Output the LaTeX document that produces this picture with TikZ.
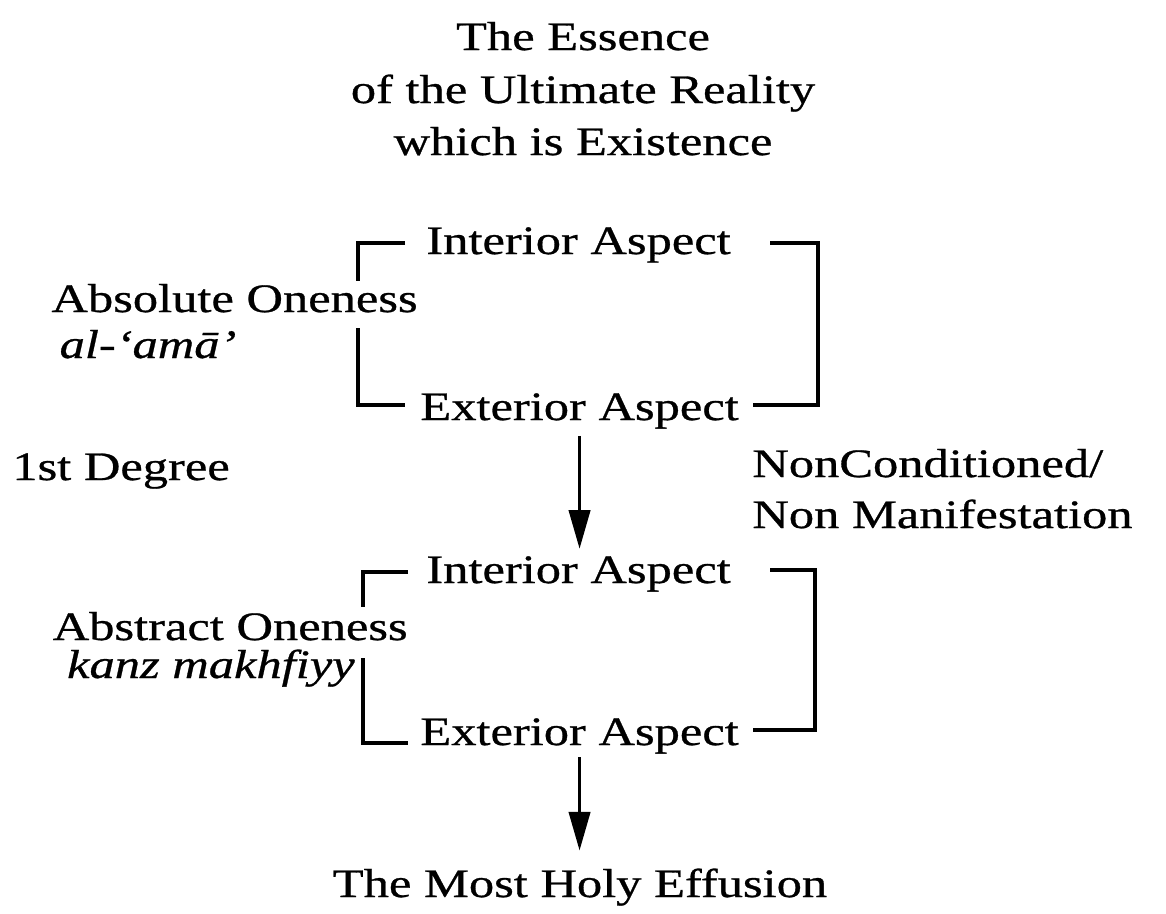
\documentclass[tikz,border=0pt]{standalone}
\usepackage{fontspec}
\setmainfont{Liberation Serif}[FakeStretch=1.25,FakeBold=0.7]
\usetikzlibrary{arrows.meta}

\begin{document}
\begin{tikzpicture}[x=0.02cm,y=-0.02cm,
	lbl/.style={inner sep=0pt, anchor=base, font=\fontsize{23}{28}\selectfont},
	brk/.style={line width=2.1pt},
	arr/.style={line width=2.1pt, -{Triangle[length=22pt,width=12pt]}}]
		\useasboundingbox (0,0) rectangle (1166,913);
		%Titel
		\node[lbl] (ttlA) at (583,50) {The Essence};
		\node[lbl] (ttlB) at (583,103) {of the Ultimate Reality};
		\node[lbl] (ttlC) at (583,155) {which is Existence};
		%erste Gruppe
		\node[lbl, anchor=base west] (int1) at (426,254) {Interior Aspect};
		\node[lbl, anchor=base east] (abs) at (418,312) {Absolute Oneness};
		\node[lbl] (alama) at (148,358) {\itshape al-‘amā’};
		\node[lbl, anchor=base west] (ext1) at (420,420) {Exterior Aspect};
		\node[lbl, anchor=base west] (deg) at (12,480) {1st Degree};
		\node[lbl, anchor=base west] (ncA) at (752,477) {NonConditioned/};
		\node[lbl, anchor=base west] (ncB) at (752,528) {Non Manifestation};
		%zweite Gruppe
		\node[lbl, anchor=base west] (int2) at (426,583) {Interior Aspect};
		\node[lbl, anchor=base east] (abstr) at (408,640) {Abstract Oneness};
		\node[lbl, anchor=base east] (kanz) at (355,678) {\itshape kanz makhfiyy};
		\node[lbl, anchor=base west] (ext2) at (420,745) {Exterior Aspect};
		\node[lbl] (eff) at (580,897) {The Most Holy Effusion};
		%Klammern
		\draw[brk] (405,243)--(358,243)--(358,281);
		\draw[brk] (358,328)--(358,405)--(405,405);
		\draw[brk] (770,243)--(818,243)--(818,405)--(753,405);
		\draw[brk] (408,572)--(363,572)--(363,607);
		\draw[brk] (363,658)--(363,743)--(408,743);
		\draw[brk] (770,570)--(815,570)--(815,730)--(753,730);
		%Pfeile
		\draw[arr, shorten <=4pt, shorten >=4pt] (ext1.south) -- (ext1.south |- int2.north);
		\draw[arr, shorten <=2pt, shorten >=10pt] (ext2.south) -- (ext2.south |- eff.north);
	\end{tikzpicture}
\end{document}
